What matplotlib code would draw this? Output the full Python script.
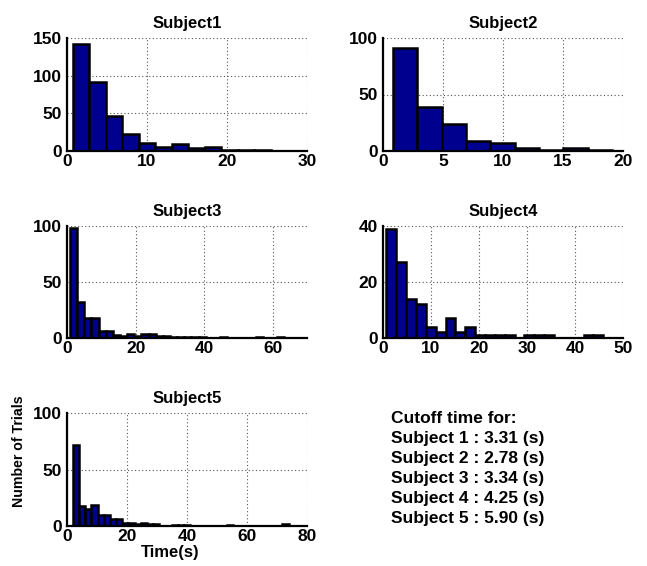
import numpy as np
import matplotlib
matplotlib.use("Agg")
import matplotlib.pyplot as plt

# ---------------- data ----------------
titles = ["Subject1", "Subject2", "Subject3", "Subject4", "Subject5"]

s1_counts = [142, 92, 46, 22, 11, 5, 9, 4, 5, 1, 1, 1, 0, 0]
s1_range = (0.75, 29.59)
s2_counts = [91, 39, 24, 9, 7, 3, 1, 3, 1]
s2_range = (0.83, 19.1)
s3_counts = [98, 32, 18, 18, 6, 6, 3, 2, 4, 2, 4, 4, 2, 2, 1, 1, 1, 1, 1, 0,
             0, 1, 0, 0, 0, 0, 1, 0, 0, 1, 0, 0, 0]
s3_range = (0.9, 69.6)
s4_counts = [39, 27, 14, 12, 4, 2, 7, 2, 4, 1, 1, 1, 1, 0, 1, 1, 1, 0, 0, 0,
             1, 1, 0, 0]
s4_range = (0.7, 50.0)
s5_counts = [72, 18, 15, 19, 10, 10, 6, 6, 3, 3, 2, 3, 2, 2, 0, 0, 1, 1, 1, 0,
             0, 0, 0, 0, 0, 1, 0, 0, 0, 0, 0, 0, 0, 0, 2, 0, 0, 0]
s5_range = (2.0, 80.0)

xlims = [(0, 30), (0, 20), (0, 70), (0, 50), (0, 80)]
ylims = [(0, 150), (0, 100), (0, 100), (0, 40), (0, 100)]
xticks = [[0, 10, 20, 30], [0, 5, 10, 15, 20], [0, 20, 40, 60],
          [0, 10, 20, 30, 40, 50], [0, 20, 40, 60, 80]]
yticks = [[0, 50, 100, 150], [0, 50, 100], [0, 50, 100], [0, 20, 40],
          [0, 50, 100]]

cutoff_subjects = [1, 2, 3, 4, 5]
cutoff_times = [3.31, 2.78, 3.34, 4.25, 5.90]

counts_all = [s1_counts, s2_counts, s3_counts, s4_counts, s5_counts]
ranges_all = [s1_range, s2_range, s3_range, s4_range, s5_range]

# ---------------- style ----------------
plt.rcParams['font.family'] = ['Liberation Sans', 'DejaVu Sans']
plt.rcParams['font.weight'] = 'bold'
FS = 12.5
BAR_COLOR = '#00008F'

W, H = 647, 566
fig = plt.figure(figsize=(W / 100, H / 100), dpi=100)

# axes boxes in pixels: (left, top, right, bottom)
boxes = [(67, 38, 307, 151), (383, 38, 623, 151),
         (67, 226, 307, 338), (383, 226, 623, 338),
         (67, 413, 307, 526)]

for i in range(5):
    l, t, r, b = boxes[i]
    ax = fig.add_axes([l / W, 1 - b / H, (r - l) / W, (b - t) / H])
    counts = np.array(counts_all[i], dtype=float)
    lo, hi = ranges_all[i]
    edges = np.linspace(lo, hi, len(counts) + 1)
    ax.bar(edges[:-1], counts, width=np.diff(edges), align='edge',
           color=BAR_COLOR, edgecolor='black', linewidth=1.8, zorder=2)
    ax.set_xlim(*xlims[i])
    ax.set_ylim(*ylims[i])
    ax.set_xticks(xticks[i])
    ax.set_yticks(yticks[i])
    ax.set_axisbelow(True)
    ax.grid(True, linestyle=(0, (1, 2.2)), color='#555555', linewidth=0.8)
    for s in ['top', 'right']:
        ax.spines[s].set_visible(False)
    for s in ['left', 'bottom']:
        ax.spines[s].set_linewidth(1.6)
        ax.spines[s].set_zorder(3)
    ax.tick_params(axis='x', direction='in', length=0, labelsize=FS, pad=2)
    ax.tick_params(axis='y', direction='in', length=0, labelsize=FS, pad=3.5)
    for lab in ax.get_xticklabels() + ax.get_yticklabels():
        lab.set_fontweight('bold')
    ax.set_title(titles[i], fontsize=12, fontweight='bold', pad=7)

# axis labels (subplot 5)
fig.text(170 / W, 1 - 553 / H, "Time(s)", ha='center', va='center',
         fontsize=12, fontweight='bold')
fig.text(19 / W, 1 - 451 / H, "Number of Trials", ha='center', va='center',
         rotation=90, fontsize=10.2, fontweight='bold')

# cutoff text block
lines = ["Cutoff time for:"] + [
    f"Subject {s} : {c:.2f} (s)" for s, c in zip(cutoff_subjects, cutoff_times)]
for k, line in enumerate(lines):
    fig.text(391 / W, 1 - (423 + 20 * k) / H, line, ha='left', va='baseline',
             fontsize=12.5, fontweight='bold')

fig.savefig("out.png", dpi=100)
